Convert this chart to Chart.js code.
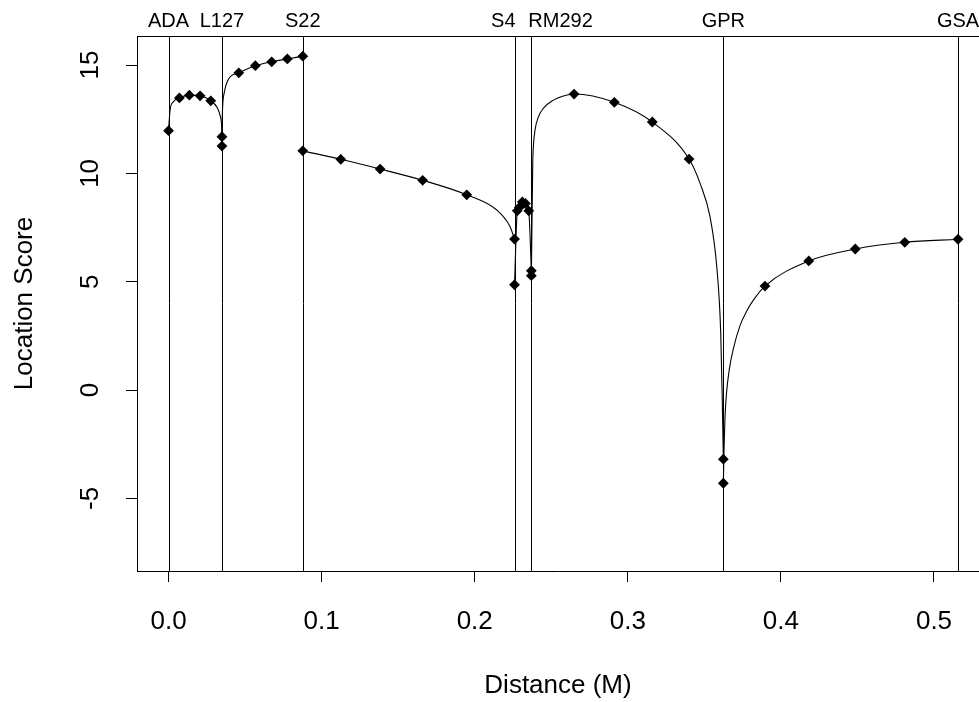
<!DOCTYPE html>
<html>
<head>
<meta charset="utf-8">
<script src="https://cdn.jsdelivr.net/npm/chart.js@4.4.1/dist/chart.umd.min.js"></script>
<style>
  html, body { margin: 0; padding: 0; background: #ffffff; overflow: hidden; }
  #wrap { width: 979px; height: 702px; }
</style>
</head>
<body>
<div id="wrap"><canvas id="c" width="979" height="702"></canvas></div>
<script>
// ---------- data ----------
const markerNames = ['ADA', 'L127', 'S22', 'S4', 'RM292', 'GPR', 'GSA'];
const markerPos   = [0, 0.0349, 0.0877, 0.2260, 0.2370, 0.3624, 0.5157];

// diamonds (evaluated positions)
const pointX = [0, 0.0071, 0.0136, 0.0206, 0.0276, 0.0349, 0.0349, 0.0459, 0.0567, 0.0674, 0.0776, 0.0877,
                0.0877, 0.1125, 0.1382, 0.1660, 0.1948, 0.2260, 0.2260, 0.2278, 0.2291, 0.2311, 0.2331, 0.2353,
                0.2370, 0.2370, 0.2649, 0.2912, 0.3160, 0.3400, 0.3624, 0.3624, 0.3896, 0.4182, 0.4486, 0.4809, 0.5157];
const pointY = [11.97, 13.48, 13.61, 13.58, 13.35, 11.69, 11.26, 14.64, 14.97, 15.15, 15.28, 15.41,
                11.04, 10.65, 10.20, 9.68, 9.01, 6.97, 4.86, 8.27, 8.43, 8.68, 8.61, 8.27,
                5.51, 5.28, 13.66, 13.28, 12.37, 10.66, -3.19, -4.30, 4.80, 5.96, 6.51, 6.82, 6.96];

// profile curve, one interval at a time
const curveADA_L127 = [[0, 11.97], [0.0010, 12.92], [0.0031, 13.30], [0.0071, 13.48], [0.0136, 13.61],
                       [0.0206, 13.58], [0.0276, 13.35], [0.0315, 13.07], [0.0336, 12.69], [0.0347, 12.15], [0.0349, 11.69]];
const curveL127_S22 = [[0.0349, 11.26], [0.0351, 12.60], [0.0363, 13.69], [0.0391, 14.34], [0.0459, 14.64],
                       [0.0567, 14.97], [0.0674, 15.15], [0.0776, 15.28], [0.0877, 15.41]];
const curveS22_S4   = [[0.0877, 11.04], [0.1125, 10.65], [0.1382, 10.20], [0.1660, 9.68], [0.1948, 9.01],
                       [0.2144, 8.31], [0.2231, 7.54], [0.2260, 6.97]];
const curveS4_RM292 = [[0.2260, 4.86], [0.2278, 8.27], [0.2291, 8.43], [0.2311, 8.68], [0.2331, 8.61],
                       [0.2353, 8.27], [0.2370, 5.51]];
const curveRM292_GPR = [[0.2370, 5.28], [0.2379, 10.46], [0.2383, 11.23], [0.2394, 12.00], [0.2416, 12.61],
                        [0.2448, 13.00], [0.2514, 13.38], [0.2579, 13.57], [0.2649, 13.66], [0.2912, 13.28],
                        [0.3160, 12.37], [0.3400, 10.66], [0.3472, 9.54], [0.3537, 8.00], [0.3581, 5.69],
                        [0.3607, 2.62], [0.3617, -0.46], [0.3624, -3.19]];
const curveGPR_GSA  = [[0.3624, -4.30], [0.3629, -2.60], [0.3634, -1.40], [0.3644, -0.20], [0.3664, 1.00],
                       [0.3689, 1.90], [0.3734, 3.00], [0.3777, 3.65], [0.3820, 4.15], [0.3896, 4.80],
                       [0.4182, 5.96], [0.4486, 6.51], [0.4809, 6.82], [0.5157, 6.96]];

const xTicks = [0, 0.1, 0.2, 0.3, 0.4, 0.5];
const yTicks = [-5, 0, 5, 10, 15];
const xLimits = [-0.0206, 0.5294];
const yLimits = [-8.35, 16.34];
const xTitle = 'Distance (M)';
const yTitle = 'Location Score';

// ---------- rendering ----------
const FONT = "'Liberation Sans', Arial, Helvetica, sans-serif";
const toXY = arr => arr.map(p => ({ x: p[0], y: p[1] }));

const curveStyle = {
  showLine: true, pointRadius: 0, pointHoverRadius: 0, borderColor: '#000000', borderWidth: 1.1,
  cubicInterpolationMode: 'monotone', fill: false, order: 2
};

const markerPlugin = {
  id: 'markers',
  beforeDatasetsDraw(chart) {
    const { ctx, chartArea: a, scales: { x } } = chart;
    ctx.save();
    ctx.strokeStyle = '#000000';
    ctx.lineWidth = 1;
    ctx.beginPath();
    ctx.moveTo(a.left, Math.round(a.top) + 0.5);
    ctx.lineTo(a.right, Math.round(a.top) + 0.5);
    markerPos.forEach(m => {
      const px = Math.round(x.getPixelForValue(m)) + 0.5;
      ctx.moveTo(px, a.top);
      ctx.lineTo(px, a.bottom);
    });
    ctx.stroke();
    ctx.restore();
  },
  afterDraw(chart, args, opts) {
    const { ctx, scales: { x } } = chart;
    ctx.save();
    ctx.fillStyle = '#000000';
    ctx.font = '20px ' + FONT;
    ctx.textBaseline = 'alphabetic';
    markerNames.forEach((name, i) => {
      const px = x.getPixelForValue(markerPos[i]);
      ctx.textAlign = opts.align[i];
      ctx.fillText(name, px + opts.shift[i], 27);
    });
    ctx.restore();
  }
};

const noPad = s => { s.paddingLeft = 0; s.paddingRight = 0; s.paddingTop = 0; s.paddingBottom = 0; };

new Chart(document.getElementById('c'), {
  type: 'scatter',
  data: {
    datasets: [
      { label: 'markers', data: pointX.map((v, i) => ({ x: v, y: pointY[i] })), showLine: false,
        pointStyle: 'rectRot', pointRadius: 5.4, pointHoverRadius: 5.4, backgroundColor: '#000000',
        borderColor: '#000000', borderWidth: 0, order: 0 },
      Object.assign({ label: 'ADA-L127', data: toXY(curveADA_L127) }, curveStyle),
      Object.assign({ label: 'L127-S22', data: toXY(curveL127_S22) }, curveStyle),
      Object.assign({ label: 'S22-S4', data: toXY(curveS22_S4) }, curveStyle),
      Object.assign({ label: 'S4-RM292', data: toXY(curveS4_RM292) }, curveStyle),
      Object.assign({ label: 'RM292-GPR', data: toXY(curveRM292_GPR) }, curveStyle),
      Object.assign({ label: 'GPR-GSA', data: toXY(curveGPR_GSA) }, curveStyle)
    ]
  },
  options: {
    responsive: false,
    animation: false,
    events: [],
    layout: { autoPadding: false, padding: { top: 36, right: 0, left: 0, bottom: 0 } },
    plugins: {
      legend: { display: false },
      tooltip: { enabled: false },
      markers: { align: ['center', 'center', 'center', 'right', 'left', 'center', 'center'],
                 shift: [0, 0, 0, 1, -3, 0, 0] }
    },
    scales: {
      x: {
        type: 'linear', position: 'bottom', min: xLimits[0], max: xLimits[1],
        afterBuildTicks: s => { s.ticks = xTicks.map(v => ({ value: v })); },
        afterFit: s => { s.height = 131; noPad(s); },
        grid: { drawOnChartArea: false, drawTicks: true, tickLength: 11, tickColor: '#000000', tickWidth: 1 },
        border: { display: true, color: '#000000', width: 1 },
        ticks: { autoSkip: false, maxRotation: 0, minRotation: 0, padding: 24, color: '#000000',
                 font: { family: FONT, size: 26 }, callback: v => Number(v).toFixed(1) },
        title: { display: true, text: xTitle, color: '#000000', font: { family: FONT, size: 26 },
                 padding: { top: 0, bottom: 1 } }
      },
      y: {
        type: 'linear', position: 'left', min: yLimits[0], max: yLimits[1],
        afterBuildTicks: s => { s.ticks = yTicks.map(v => ({ value: v })); },
        afterFit: s => { s.width = 137; noPad(s); },
        grid: { drawOnChartArea: false, drawTicks: true, tickLength: 11, tickColor: '#000000', tickWidth: 1 },
        border: { display: true, color: '#000000', width: 1 },
        ticks: { minRotation: 90, maxRotation: 90, crossAlign: 'center', padding: 21, color: '#000000',
                 font: { family: FONT, size: 26 }, callback: v => String(v) },
        title: { display: true, text: yTitle, color: '#000000', font: { family: FONT, size: 26 },
                 padding: { top: 9, bottom: 0 } }
      }
    }
  },
  plugins: [markerPlugin]
});
</script>
</body>
</html>
